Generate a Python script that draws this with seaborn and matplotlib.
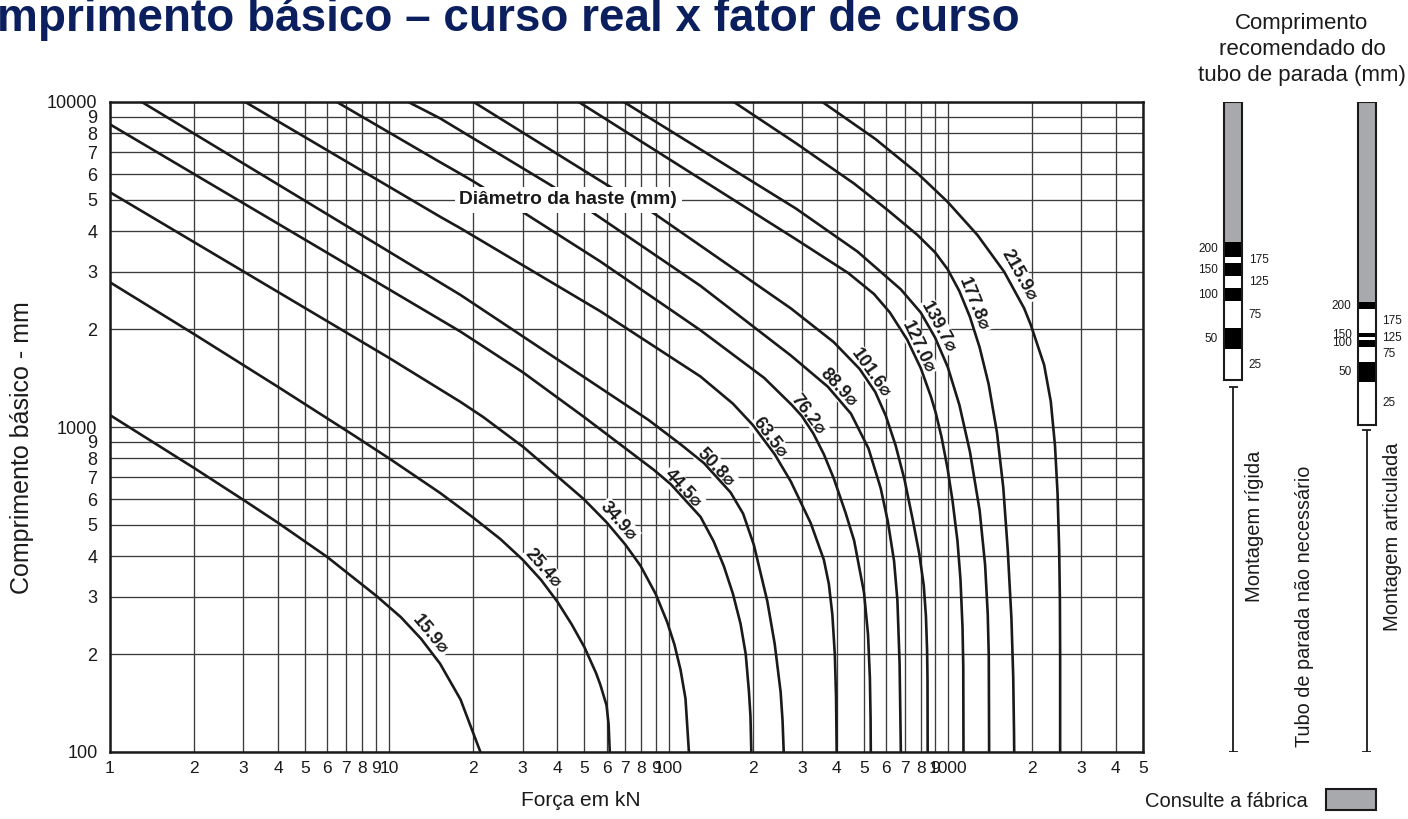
import numpy as np
import pandas as pd
import matplotlib
matplotlib.use("Agg")
import matplotlib.pyplot as plt
from matplotlib.patches import Patch
import seaborn as sns

# Basic length (mm) against force (kN) for each piston-rod diameter (mm)
rod_15_9_kn = [1, 2, 3, 4, 6, 9, 11, 13, 15.2, 18, 21.2]
rod_15_9_mm = [1088, 748, 597, 507, 398, 302, 260, 223, 187, 145, 100]

rod_25_4_kn = [1, 2, 4, 7.4, 10, 15.2, 20, 25, 30, 35, 40, 45, 50, 55, 57, 60, 61, 61.6]
rod_25_4_mm = [2788, 1931, 1328, 947, 800, 627, 526, 452, 391, 338, 290, 247, 210, 175, 161, 139, 122, 100]

rod_34_9_kn = [1, 2, 10, 18, 21.7, 30.3, 49.7, 60, 70, 79.4, 90, 98.9, 105, 110.4, 115, 118.3]
rod_34_9_mm = [5276, 3705, 1630, 1194, 1073, 866, 600, 509, 435, 374, 306, 251, 214, 179, 146, 100]

rod_44_5_kn = [1, 18, 30, 49.7, 88.6, 102, 130.2, 145, 157.8, 170, 181.1, 189, 194, 196.5, 197.9]
rod_44_5_mm = [8535, 1965, 1476, 1075, 738, 666, 529, 445, 373, 307, 248, 200, 154, 129, 100]

rod_50_8_kn = [1.30, 18, 84.8, 111.3, 134, 166.8, 185, 202.2, 225.8, 240, 252, 256, 258.5]
rod_50_8_mm = [10000, 2548, 1051, 880, 774, 629, 541, 433, 291, 215, 153, 125, 100]

rod_63_5_kn = [3.05, 15.2, 18, 57, 130, 170, 200, 240, 274, 323, 360, 375, 386, 394, 398, 400]
rod_63_5_mm = [10000, 4437, 4087, 2270, 1431, 1180, 1016, 824, 680, 506, 390, 329, 265, 199, 147, 100]

rod_76_2_kn = [6.49, 15.2, 18, 20, 29.9, 57, 130, 220, 276, 300, 330, 360, 391, 430, 462, 501,
               518, 526, 529, 530]
rod_76_2_mm = [10000, 6530, 6010, 5700, 4600, 3230, 1986, 1416, 1170, 1081, 955, 824, 693, 546, 447, 310,
               230, 169, 127, 100]

rod_88_9_kn = [11.7, 15.2, 37.8, 54, 130, 274, 372, 450, 520, 575, 610, 642, 660, 672, 677, 679]
rod_88_9_mm = [10000, 8909, 5554, 4545, 2720, 1660, 1330, 1099, 859, 648, 512, 387, 293, 187, 120, 100]

rod_101_6_kn = [20.05, 60.3, 88.6, 274, 390, 483, 550, 600, 650, 700, 750, 790, 820, 835, 843, 846, 847]
rod_101_6_mm = [10000, 5554, 4545, 2318, 1826, 1510, 1281, 1082, 879, 688, 515, 408, 326, 262, 206, 166, 100]

rod_127_0_kn = [47.7, 285, 440, 544, 620, 715, 800, 870, 906, 950, 998, 1040, 1083, 1110, 1129, 1136, 1138]
rod_127_0_mm = [10000, 3788, 2977, 2566, 2252, 1858, 1518, 1241, 1103, 930, 745, 592, 446, 340, 242, 183, 100]

rod_139_7_kn = [69.2, 285, 475, 679, 800, 900, 1000, 1100, 1200, 1300, 1360, 1390, 1402, 1406]
rod_139_7_mm = [10000, 4709, 3465, 2651, 2250, 1886, 1528, 1170, 840, 554, 377, 266, 197, 100]

rod_177_8_kn = [171.4, 285, 462, 608, 779, 900, 998, 1100, 1200, 1300, 1400, 1500, 1580, 1640, 1690,
                1715, 1726, 1729]
rod_177_8_mm = [10000, 7482, 5609, 4656, 3897, 3447, 3060, 2619, 2182, 1758, 1356, 961, 651, 416, 257,
                170, 116, 100]

rod_215_9_kn = [355.6, 550, 778, 997, 1277, 1591, 1877, 1983, 2213, 2338, 2420, 2472, 2505, 2520, 2525, 2525]
rod_215_9_mm = [10000, 7698, 6040, 4934, 3896, 3005, 2318, 2060, 1552, 1197, 877, 624, 419, 293, 200, 100]

rod_diameters = ["15.9", "25.4", "34.9", "44.5", "50.8", "63.5", "76.2",
                 "88.9", "101.6", "127.0", "139.7", "177.8", "215.9"]
# basic length (mm) at which each diameter tag sits, and its gap from the curve (pt)
tag_at_mm = [219, 352, 490, 628, 729, 903, 1063, 1275, 1419, 1727, 1974, 2331, 2814]
tag_gap_pt = [7, 7, 7, 4, 4, 4, 4, 5, 5, 5, 6, 6, 8]

x_ticks = [1, 2, 3, 4, 5, 6, 7, 8, 9, 10, 20, 30, 40, 50, 60, 70, 80, 90, 100,
           200, 300, 400, 500, 600, 700, 800, 900, 1000, 2000, 3000, 4000, 5000]
x_tick_labels = ["1", "2", "3", "4", "5", "6", "7", "8", "9", "10",
                 "2", "3", "4", "5", "6", "7", "8", "9", "100",
                 "2", "3", "4", "5", "6", "7", "8", "9", "1000",
                 "2", "3", "4", "5"]
y_ticks = [100, 200, 300, 400, 500, 600, 700, 800, 900, 1000,
           2000, 3000, 4000, 5000, 6000, 7000, 8000, 9000, 10000]
y_tick_labels = ["100", "2", "3", "4", "5", "6", "7", "8", "9", "1000",
                 "2", "3", "4", "5", "6", "7", "8", "9", "10000"]

# Recommended stop-tube bands, aligned with the basic-length scale (mm)
band_names = ["200", "175", "150", "125", "100", "75", "50", "25"]
rigid_edges_mm = [10000, 3717, 3329, 3190, 2915, 2672, 2442, 2012, 1734, 1395]
pivot_edges_mm = [10000, 2429, 2302, 1950, 1896, 1852, 1767, 1588, 1379, 1014]
rigid_no_tube_mm = [100, 1330]
pivot_no_tube_mm = [100, 979]

sns.set_theme(style="white")
plt.rcParams["font.family"] = ["Liberation Sans", "DejaVu Sans"]

INK = "#1a1a1a"
GRID = "#3c3c3c"
GREY = "#a7a9ac"
NAVY = "#0b1f5f"
W, H = 1408, 819

fig = plt.figure(figsize=(W / 100, H / 100), dpi=100)
ax = fig.add_axes([110 / W, 67 / H, 1033 / W, 650 / H])
ax.set_xscale("log")
ax.set_yscale("log")
ax.set_xlim(1, 5000)
ax.set_ylim(100, 10000)

curves = [
    (rod_15_9_kn, rod_15_9_mm), (rod_25_4_kn, rod_25_4_mm), (rod_34_9_kn, rod_34_9_mm),
    (rod_44_5_kn, rod_44_5_mm), (rod_50_8_kn, rod_50_8_mm), (rod_63_5_kn, rod_63_5_mm),
    (rod_76_2_kn, rod_76_2_mm), (rod_88_9_kn, rod_88_9_mm), (rod_101_6_kn, rod_101_6_mm),
    (rod_127_0_kn, rod_127_0_mm), (rod_139_7_kn, rod_139_7_mm),
    (rod_177_8_kn, rod_177_8_mm), (rod_215_9_kn, rod_215_9_mm),
]
df = pd.concat(
    [pd.DataFrame({"forca": kn, "comprimento": mm, "diametro": d})
     for d, (kn, mm) in zip(rod_diameters, curves)],
    ignore_index=True,
)
sns.lineplot(data=df, x="forca", y="comprimento", units="diametro", estimator=None,
             sort=False, color=INK, linewidth=1.9, legend=False, ax=ax, zorder=3)
for ln in ax.lines:
    ln.set_solid_joinstyle("round")

ax.xaxis.set_minor_locator(matplotlib.ticker.NullLocator())
ax.yaxis.set_minor_locator(matplotlib.ticker.NullLocator())
ax.set_xticks(x_ticks, labels=x_tick_labels)
ax.set_yticks(y_ticks, labels=y_tick_labels)
ax.tick_params(axis="both", length=0, colors=INK)
ax.tick_params(axis="x", pad=6.5, labelsize=12.5)
ax.tick_params(axis="y", pad=9, labelsize=13)
ax.set_axisbelow(True)
ax.grid(True, which="major", color=GRID, linewidth=0.95)
for sp in ax.spines.values():
    sp.set_color(INK)
    sp.set_linewidth(1.8)

ax.set_xlabel("Força em kN", fontsize=15, color=INK, va="center")
ax.xaxis.set_label_coords(0.456, -0.074)
ax.set_ylabel("Comprimento básico - mm", fontsize=18, color=INK, va="center")
ax.yaxis.set_label_coords(-0.085, 0.468)

# diameter tags sitting on the outer side of each curve
fig.canvas.draw()
for d, (kn, mm), at, gap in zip(rod_diameters, curves, tag_at_mm, tag_gap_pt):
    lk = np.log10(kn)[::-1]
    lm = np.log10(mm)[::-1]
    fx = lambda m: 10 ** np.interp(np.log10(m), lm, lk)
    p = ax.transData.transform([(fx(at * 1.08), at * 1.08), (fx(at / 1.08), at / 1.08)])
    ang = np.degrees(np.arctan2(p[1, 1] - p[0, 1], p[1, 0] - p[0, 0]))
    a = np.radians(ang)
    ax.annotate(f"{d}\u2300", xy=(fx(at), at),
                xytext=(-np.sin(a) * gap, np.cos(a) * gap), textcoords="offset points",
                rotation=ang, rotation_mode="anchor", ha="center", va="center",
                fontsize=13, fontweight="bold", color=INK, zorder=2.5,
                bbox=dict(boxstyle="square,pad=0.08", fc="white", ec="none"))

ax.text(43.8, 5000, "Diâmetro da haste (mm)", ha="center", va="center",
        fontsize=13.8, fontweight="bold", color=INK, zorder=4,
        bbox=dict(boxstyle="square,pad=0.25", fc="white", ec="none"))

# stop-tube panel, sharing the basic-length scale
side = fig.add_axes([1180 / W, 67 / H, 228 / W, 650 / H])
side.set_yscale("log")
side.set_ylim(100, 10000)
side.set_xlim(-0.3996, 1.3094)
side.axis("off")
bar_w = 0.135
for xpos, edges, no_tube in ((0, rigid_edges_mm, rigid_no_tube_mm),
                             (1, pivot_edges_mm, pivot_no_tube_mm)):
    tops, bots = edges[:-1], edges[1:]
    colors = [GREY] + ["black" if i % 2 == 0 else "white" for i in range(len(band_names))]
    side.bar([xpos] * len(tops), np.array(tops) - np.array(bots), bottom=bots,
             width=bar_w, color=colors, edgecolor="none", zorder=2)
    side.bar(xpos, edges[0] - edges[-1], bottom=edges[-1], width=bar_w,
             fill=False, edgecolor=INK, linewidth=1.5, zorder=3)
    for i, name in enumerate(band_names):
        mid = np.sqrt(edges[i + 1] * edges[i + 2])
        left = i % 2 == 0
        side.annotate(name, xy=(xpos - bar_w / 2 if left else xpos + bar_w / 2, mid),
                      xytext=(-4.5 if left else 4.5, 0), textcoords="offset points",
                      ha="right" if left else "left", va="center", fontsize=8.5, color=INK)
    side.vlines(xpos, no_tube[0], no_tube[1], color=INK, linewidth=1.3)
    side.hlines(no_tube, xpos - 0.035, xpos + 0.035, color=INK, linewidth=1.3)

side.text(0.325, 0.347, "Montagem rígida", rotation=90, ha="center", va="center",
          fontsize=14.5, color=INK, transform=side.transAxes)
side.text(0.548, 0.224, "Tubo de parada não necessário", rotation=90, ha="center",
          va="center", fontsize=14.3, color=INK, transform=side.transAxes)
side.text(0.93, 0.331, "Montagem articulada", rotation=90, ha="center", va="center",
          fontsize=14.5, color=INK, transform=side.transAxes)

for txt, base in (("Comprimento", 29), ("recomendado do", 55), ("tubo de parada (mm)", 81)):
    fig.text(1302 / W, 1 - base / H, txt, ha="center", va="baseline", fontsize=16, color=INK)

fig.legend(handles=[Patch(facecolor=GREY, edgecolor=INK, linewidth=1.5, label="Consulte a fábrica")],
           loc="center right", bbox_to_anchor=(1376 / W, 1 - 800 / H), frameon=False,
           markerfirst=False, fontsize=14.5, handlelength=2.5, handleheight=1.2,
           handletextpad=0.9, borderpad=0, borderaxespad=0, labelcolor=INK)

fig.text(1020 / W, 1 - 31 / H, "Comprimento básico – curso real x fator de curso",
         ha="right", va="baseline", fontsize=33, fontweight="bold", color=NAVY)

fig.savefig("out.png", dpi=100)
